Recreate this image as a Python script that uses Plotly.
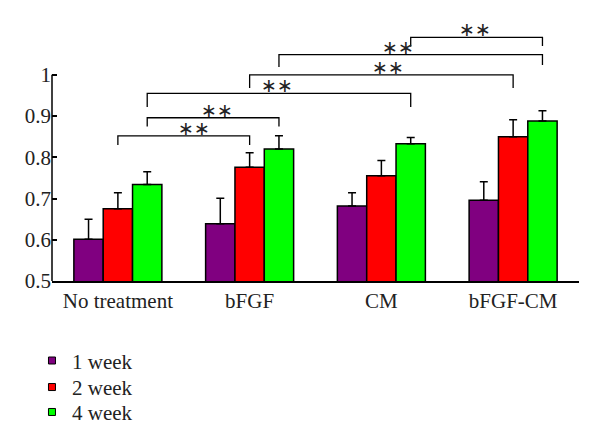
import plotly.graph_objects as go

categories = ["No treatment", "bFGF", "CM", "bFGF-CM"]
series_names = ["1 week", "2 week", "4 week"]
series_colors = ["#800080", "#ff0000", "#00ff00"]

week1 = [0.601, 0.639, 0.682, 0.696]
week2 = [0.675, 0.776, 0.755, 0.850]
week4 = [0.734, 0.820, 0.833, 0.888]
err1 = [0.049, 0.062, 0.032, 0.045]
err2 = [0.039, 0.035, 0.037, 0.041]
err4 = [0.031, 0.032, 0.015, 0.025]

values = [week1, week2, week4]
errors = [err1, err2, err4]

y_ticks = [0.5, 0.6, 0.7, 0.8, 0.9, 1]

# significance brackets: (category, series) start, (category, series) end
bracket_start = [(0, 1), (0, 2), (0, 2), (1, 1), (1, 2), (2, 2)]
bracket_end = [(1, 1), (1, 2), (2, 2), (3, 1), (3, 2), (3, 2)]
bracket_level = [0.852, 0.896, 0.955, 1.000, 1.049, 1.091]
bracket_left_foot = [0.830, 0.875, 0.922, 0.968, 1.019, 1.068]
bracket_right_foot = [0.830, 0.875, 0.922, 0.968, 1.024, 1.070]
star_shift_px = [10, 4, -2, 7, -13, -2]
star_label = "∗∗"

BARGAP = 0.332
FONT = "Liberation Serif"
legend_names = ["legend", "legend2", "legend3"]
legend_y = [-0.298, -0.397, -0.49]

fig = go.Figure()
x_idx = list(range(len(categories)))
for name, color, vals, errs, lg in zip(series_names, series_colors, values, errors, legend_names):
    fig.add_trace(go.Bar(
        x=x_idx, y=vals, name=name, showlegend=False,
        marker=dict(color=color, line=dict(color="black", width=1.5)),
        error_y=dict(type="data", symmetric=False, array=errs,
                     arrayminus=[0] * len(errs), color="black",
                     thickness=1.5, width=4),
    ))
    fig.add_trace(go.Scatter(
        x=[None], y=[None], mode="markers", name=name, legend=lg,
        marker=dict(symbol="square", size=7, color=color,
                    line=dict(color="black", width=1)),
    ))

bar_w = (1 - BARGAP) / len(series_names)


def bar_x(cat, ser):
    return cat + (ser - (len(series_names) - 1) / 2) * bar_w


for (c0, s0), (c1, s1), lvl, lf, rf, sh in zip(bracket_start, bracket_end, bracket_level,
                                               bracket_left_foot, bracket_right_foot,
                                               star_shift_px):
    x0 = bar_x(c0, s0)
    x1 = bar_x(c1, s1)
    fig.add_shape(type="path",
                  path=f"M {x0},{lf} L {x0},{lvl} L {x1},{lvl} L {x1},{rf}",
                  xref="x", yref="y", line=dict(color="black", width=1.3))
    fig.add_annotation(x=(x0 + x1) / 2, y=lvl, xref="x", yref="y",
                       text=star_label, showarrow=False, xshift=sh, yshift=8,
                       font=dict(family="DejaVu Sans", size=19, color="#222"))

# y axis line only up to 1
fig.add_shape(type="line", xref="paper", yref="y", x0=0, x1=0, y0=0.5, y1=1,
              line=dict(color="black", width=1.5))

legend_style = dict(x=-0.038, xanchor="left", yanchor="middle",
                    font=dict(family=FONT, size=21, color="#222"),
                    bgcolor="rgba(0,0,0,0)")

fig.update_layout(
    width=592, height=435,
    margin=dict(l=44, r=21, t=5, b=162, autoexpand=False),
    paper_bgcolor="white", plot_bgcolor="white",
    barmode="group", bargap=BARGAP, bargroupgap=0,
    font=dict(family=FONT, size=21, color="#222"),
    xaxis=dict(range=[-0.5, 3.5], tickvals=x_idx, ticktext=categories,
               showline=True, linecolor="black", linewidth=1.5,
               showgrid=False, zeroline=False, ticks=""),
    yaxis=dict(range=[0.5, 1.15], tickvals=y_ticks,
               ticktext=["0.5", "0.6", "0.7", "0.8", "0.9", "1"],
               showline=False, showgrid=False, zeroline=False,
               ticks="inside", ticklen=5, tickcolor="black", tickwidth=1.5),
    legend=dict(y=legend_y[0], **legend_style),
    legend2=dict(y=legend_y[1], **legend_style),
    legend3=dict(y=legend_y[2], **legend_style),
    showlegend=True,
)

fig.write_html("out.html")
